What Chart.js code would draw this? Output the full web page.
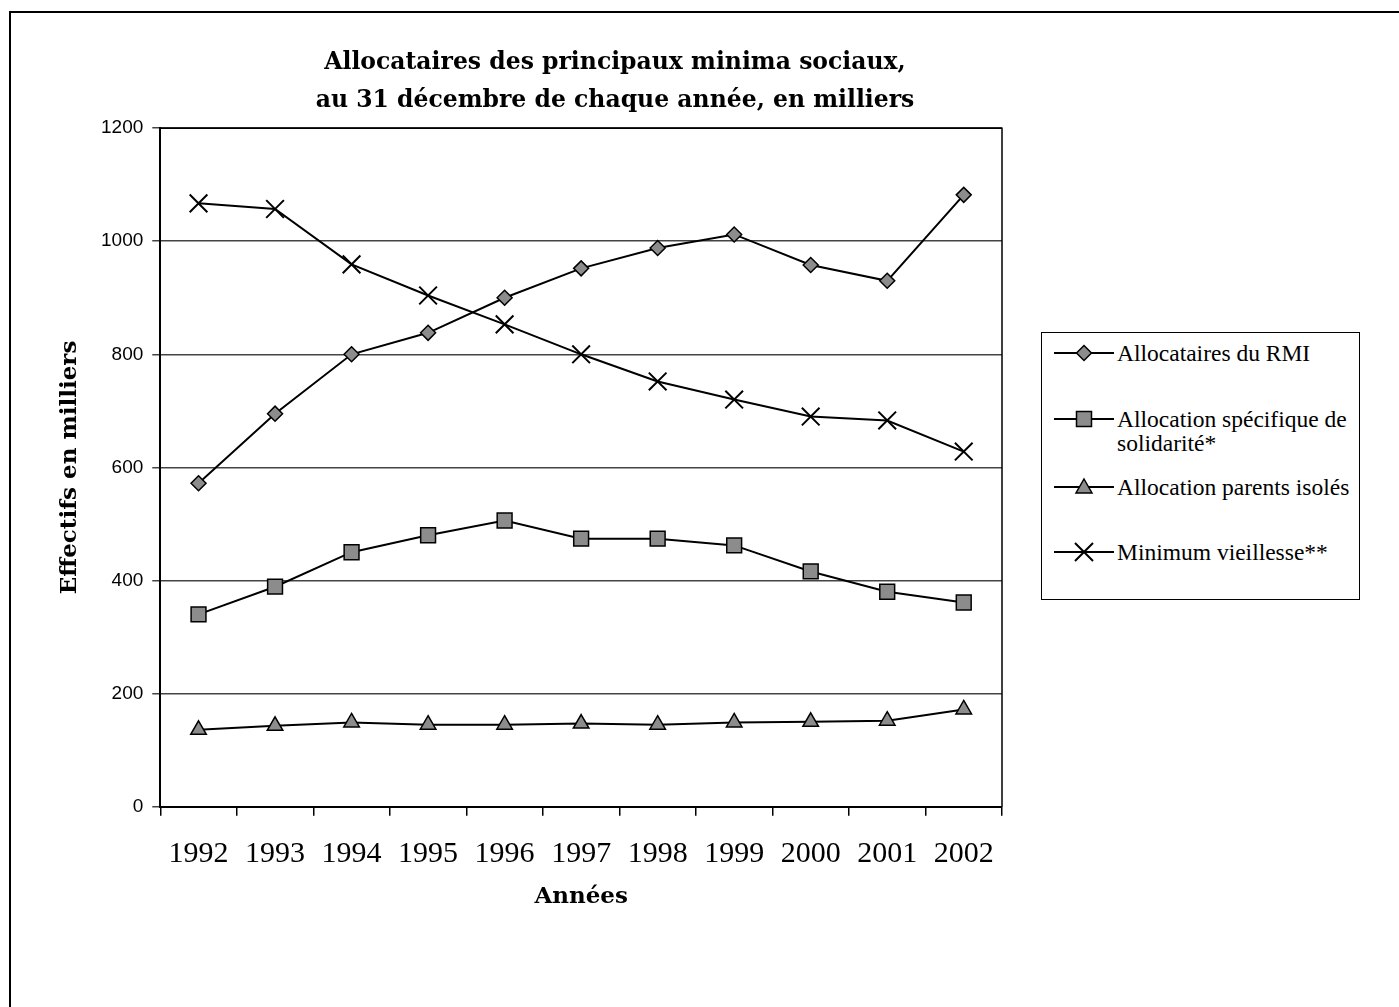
<!DOCTYPE html>
<html>
<head>
<meta charset="utf-8">
<script src="https://cdn.jsdelivr.net/npm/chart.js@4.4.0/dist/chart.umd.min.js"></script>
<style>
  body { margin: 0; background: #fff; }
  #page { position: relative; width: 1399px; height: 1007px; overflow: hidden; }
  #frame { position: absolute; left: 9px; top: 11px; width: 1400px; height: 1000px;
           border-top: 2px solid #000; border-left: 2px solid #000; }
  #wrap { position: absolute; left: 0; top: 0; width: 1230px; height: 1007px; }
  #legend { position: absolute; left: 1041px; top: 332px; width: 317px; height: 266px;
            border: 1.5px solid #000; background: #fff;
            font-family: "Liberation Serif", "Times New Roman", serif; font-size: 23.5px; color: #000; }
  .item { position: absolute; left: 12px; display: flex; align-items: flex-start; }
  .item svg { flex: none; margin-right: 3px; }
  .item span { line-height: 24px; white-space: nowrap; }
</style>
</head>
<body>
<div id="page">
  <div id="frame"></div>
  <div id="wrap"><canvas id="c"></canvas></div>
  <div id="legend"></div>
</div>
<script>
// ---- data ----
let years = ['1992', '1993', '1994', '1995', '1996', '1997', '1998', '1999', '2000', '2001', '2002'];
let rmi = [572, 695, 800, 838, 900, 952, 988, 1012, 958, 930, 1082];
let ass = [340, 389, 450, 480, 506, 474, 474, 462, 416, 380, 361];
let api = [136, 143, 149, 145, 145, 147, 145, 149, 150, 152, 172];
let minVieil = [1067, 1057, 959, 904, 853, 800, 752, 720, 690, 683, 628];
let seriesNames = ['Allocataires du RMI', 'Allocation spécifique de solidarité*', 'Allocation parents isolés', 'Minimum vieillesse**'];
let yTicks = [0, 200, 400, 600, 800, 1000, 1200];

let serif = '"Liberation Serif", "Times New Roman", serif';
let boldSerif = '"DejaVu Serif", serif';
let sans = '"Liberation Sans", Arial, sans-serif';
let markFill = '#8c8c8c';

function makeSet(label, data, style, radius, bw) {
  return {
    label: label,
    data: data,
    yAxisID: 'y',
    borderColor: '#000',
    borderWidth: 2,
    pointStyle: style,
    pointRadius: radius,
    pointBackgroundColor: markFill,
    pointBorderColor: '#000',
    pointBorderWidth: bw,
    tension: 0
  };
}

// box around the plot area (top + right sides)
let plotFrame = {
  id: 'plotFrame',
  afterDraw(chart) {
    let a = chart.chartArea;
    let ctx = chart.ctx;
    ctx.save();
    ctx.strokeStyle = '#000';
    ctx.lineWidth = 1.5;
    ctx.beginPath();
    ctx.moveTo(a.left, a.top);
    ctx.lineTo(a.right, a.top);
    ctx.lineTo(a.right, a.bottom);
    ctx.stroke();
    ctx.restore();
  }
};

new Chart(document.getElementById('c'), {
  type: 'line',
  data: {
    labels: years,
    datasets: [
      makeSet(seriesNames[0], rmi, 'rectRot', 7.5, 1.5),
      makeSet(seriesNames[1], ass, 'rect', 10.5, 1.5),
      makeSet(seriesNames[2], api, 'triangle', 9, 1.5),
      makeSet(seriesNames[3], minVieil, 'crossRot', 12.5, 2)
    ]
  },
  options: {
    responsive: true,
    maintainAspectRatio: false,
    animation: false,
    layout: { padding: { top: 0, left: 0, right: 0, bottom: 105 } },
    plugins: {
      legend: { display: false },
      tooltip: { enabled: false },
      title: {
        display: true,
        text: ['Allocataires des principaux minima sociaux,', 'au 31 décembre de chaque année, en milliers'],
        color: '#000',
        font: { family: boldSerif, size: 23.5, weight: 'bold', lineHeight: 1.62 },
        padding: { top: 43.5, bottom: 8.5 }
      }
    },
    scales: {
      x: {
        offset: true,
        grid: { drawOnChartArea: false, drawTicks: true, tickLength: 9, color: '#000', lineWidth: 1.5, offset: true },
        border: { display: true, color: '#000', width: 2 },
        ticks: { color: '#000', font: { family: serif, size: 30, lineHeight: 0.8 }, padding: 26, maxRotation: 0 },
        title: { display: true, text: 'Années', color: '#000', font: { family: boldSerif, size: 23, weight: 'bold', lineHeight: 0.45 }, padding: { top: 0, bottom: 0 } }
      },
      y: {
        min: 0,
        max: 1200,
        afterBuildTicks(scale) { scale.ticks = yTicks.map(v => ({ value: v })); },
        grid: { color: '#444', lineWidth: 1.5, tickLength: 8 },
        border: { display: true, color: '#000', width: 2 },
        ticks: { color: '#000', font: { family: sans, size: 19 }, padding: 9, callback: v => String(v) },
        title: { display: true, text: 'Effectifs en milliers', color: '#000', font: { family: boldSerif, size: 23, weight: 'bold', lineHeight: 1.0 }, padding: { top: 58.5, bottom: 10.5 } }
      },
      // empty right-hand axis keeps room for the legend
      yRight: {
        position: 'right',
        display: true,
        grid: { display: false },
        border: { display: false },
        ticks: { display: false },
        afterFit(scale) { scale.width = 228; }
      }
    }
  },
  plugins: [plotFrame]
});

// ---- legend (html) ----
let icons = [
  '<polygon points="30,2.5 37.5,10 30,17.5 22.5,10" fill="' + markFill + '" stroke="#000" stroke-width="1.5"/>',
  '<rect x="22.5" y="2.5" width="15" height="15" fill="' + markFill + '" stroke="#000" stroke-width="1.5"/>',
  '<polygon points="30,2 38,16 22,16" fill="' + markFill + '" stroke="#000" stroke-width="1.5"/>',
  '<path d="M21,1 L39,19 M39,1 L21,19" stroke="#000" stroke-width="2"/>'
];
let itemTops = [8, 74, 142, 207];
let legend = document.getElementById('legend');
for (let i = 0; i < seriesNames.length; i++) {
  let label = seriesNames[i];
  if (i === 1) label = 'Allocation spécifique de<br>solidarité*';
  let div = document.createElement('div');
  div.className = 'item';
  div.style.top = itemTops[i] + 'px';
  div.innerHTML = '<svg width="60" height="20" style="margin-top:2px"><line x1="0" y1="10" x2="60" y2="10" stroke="#000" stroke-width="2"/>' +
    icons[i] + '</svg><span>' + label + '</span>';
  legend.appendChild(div);
}
</script>
</body>
</html>
